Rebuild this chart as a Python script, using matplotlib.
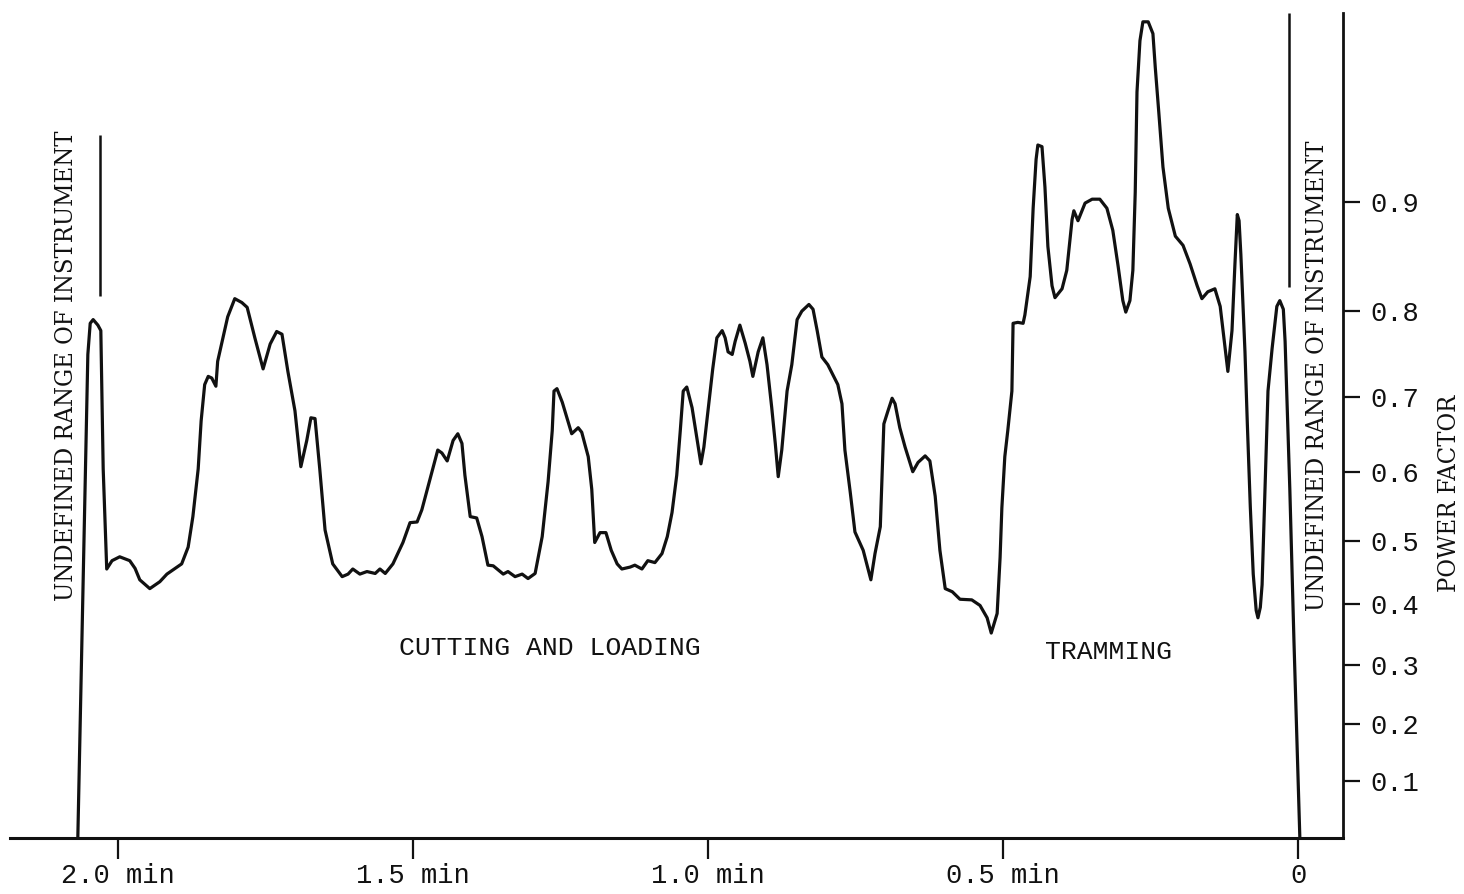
import numpy as np
import matplotlib
matplotlib.use("Agg")
import matplotlib.pyplot as plt

# time before end of cycle (min) and power factor
time_min = [
    2.068, 2.051, 2.047, 2.042, 2.034, 2.029, 2.025, 2.019, 2.010, 1.997,
    1.980, 1.971, 1.963, 1.946, 1.929, 1.917, 1.892, 1.881, 1.873, 1.864,
    1.859, 1.853, 1.847, 1.841, 1.834, 1.831, 1.822, 1.814, 1.802, 1.790,
    1.781, 1.768, 1.754, 1.742, 1.731, 1.722, 1.712, 1.700, 1.690, 1.680,
    1.673, 1.666, 1.658, 1.649, 1.636, 1.620, 1.610, 1.602, 1.590, 1.578,
    1.564, 1.556, 1.547, 1.534, 1.517, 1.505, 1.493, 1.485, 1.471, 1.458,
    1.451, 1.442, 1.432, 1.424, 1.417, 1.412, 1.403, 1.392, 1.383, 1.373,
    1.364, 1.347, 1.339, 1.327, 1.315, 1.305, 1.293, 1.281, 1.271, 1.264,
    1.261, 1.256, 1.247, 1.239, 1.231, 1.220, 1.214, 1.203, 1.197, 1.192,
    1.183, 1.173, 1.164, 1.154, 1.146, 1.132, 1.124, 1.112, 1.102, 1.090,
    1.078, 1.069, 1.061, 1.053, 1.047, 1.042, 1.036, 1.027, 1.019, 1.012,
    1.007, 1.000, 0.992, 0.985, 0.976, 0.971, 0.966, 0.959, 0.954, 0.946,
    0.937, 0.929, 0.924, 0.915, 0.907, 0.900, 0.892, 0.886, 0.881, 0.875,
    0.866, 0.858, 0.849, 0.841, 0.829, 0.822, 0.815, 0.807, 0.797, 0.780,
    0.773, 0.768, 0.759, 0.751, 0.737, 0.724, 0.717, 0.708, 0.702, 0.695,
    0.688, 0.683, 0.675, 0.666, 0.653, 0.644, 0.632, 0.624, 0.615, 0.607,
    0.598, 0.586, 0.573, 0.553, 0.539, 0.527, 0.520, 0.510, 0.505, 0.502,
    0.497, 0.492, 0.485, 0.483, 0.475, 0.466, 0.463, 0.454, 0.449, 0.444,
    0.441, 0.434, 0.429, 0.424, 0.417, 0.412, 0.400, 0.392, 0.383, 0.380,
    0.373, 0.361, 0.349, 0.336, 0.324, 0.314, 0.305, 0.297, 0.292, 0.285,
    0.280, 0.276, 0.273, 0.268, 0.263, 0.254, 0.246, 0.242, 0.236, 0.229,
    0.220, 0.208, 0.195, 0.183, 0.171, 0.163, 0.153, 0.141, 0.132, 0.119,
    0.112, 0.107, 0.103, 0.100, 0.097, 0.090, 0.086, 0.081, 0.076, 0.071,
    0.068, 0.064, 0.061, 0.056, 0.051, 0.044, 0.036, 0.031, 0.025, 0.022,
    0.014, 0.007, -0.003,
]
power_factor = [
    0.000, 0.752, 0.787, 0.791, 0.785, 0.779, 0.605, 0.456, 0.469, 0.475,
    0.469, 0.457, 0.439, 0.425, 0.436, 0.448, 0.464, 0.490, 0.536, 0.605,
    0.670, 0.716, 0.726, 0.724, 0.714, 0.744, 0.771, 0.794, 0.813, 0.809,
    0.804, 0.771, 0.735, 0.764, 0.778, 0.775, 0.732, 0.683, 0.608, 0.644,
    0.674, 0.673, 0.605, 0.516, 0.464, 0.444, 0.448, 0.456, 0.448, 0.452,
    0.449, 0.456, 0.449, 0.464, 0.497, 0.527, 0.528, 0.546, 0.591, 0.631,
    0.627, 0.616, 0.644, 0.653, 0.640, 0.596, 0.536, 0.534, 0.506, 0.462,
    0.461, 0.448, 0.452, 0.444, 0.448, 0.441, 0.449, 0.506, 0.587, 0.657,
    0.708, 0.711, 0.694, 0.674, 0.653, 0.661, 0.655, 0.622, 0.576, 0.497,
    0.512, 0.512, 0.485, 0.464, 0.456, 0.459, 0.462, 0.456, 0.469, 0.466,
    0.480, 0.506, 0.542, 0.596, 0.657, 0.708, 0.713, 0.687, 0.648, 0.612,
    0.635, 0.683, 0.735, 0.771, 0.779, 0.771, 0.755, 0.752, 0.767, 0.785,
    0.765, 0.744, 0.726, 0.755, 0.771, 0.740, 0.687, 0.640, 0.594, 0.631,
    0.708, 0.740, 0.791, 0.800, 0.807, 0.802, 0.779, 0.749, 0.740, 0.716,
    0.692, 0.631, 0.572, 0.513, 0.485, 0.439, 0.480, 0.521, 0.666, 0.683,
    0.699, 0.692, 0.661, 0.635, 0.601, 0.614, 0.623, 0.616, 0.566, 0.485,
    0.425, 0.420, 0.408, 0.407, 0.398, 0.378, 0.353, 0.385, 0.474, 0.549,
    0.622, 0.657, 0.708, 0.787, 0.788, 0.787, 0.796, 0.835, 0.895, 0.930,
    0.939, 0.938, 0.911, 0.863, 0.826, 0.814, 0.823, 0.841, 0.886, 0.893,
    0.885, 0.899, 0.902, 0.902, 0.895, 0.877, 0.845, 0.811, 0.799, 0.811,
    0.841, 0.907, 0.967, 0.986, 0.991, 0.991, 0.988, 0.977, 0.957, 0.925,
    0.895, 0.872, 0.864, 0.847, 0.826, 0.813, 0.820, 0.823, 0.805, 0.732,
    0.779, 0.847, 0.890, 0.885, 0.856, 0.755, 0.666, 0.551, 0.448, 0.390,
    0.378, 0.395, 0.431, 0.576, 0.708, 0.759, 0.805, 0.811, 0.802, 0.767,
    0.576, 0.340, 0.000,
]

# boundaries of the instrument's undefined range (time, pf from, pf to)
undefined_time = [2.031, 0.015]
undefined_low = [0.816, 0.825]
undefined_high = [0.945, 0.993]

x_ticks = [2.0, 1.5, 1.0, 0.5, 0.0]
x_labels = ["2.0 min", "1.5 min", "1.0 min", "0.5 min", "0"]
pf_ticks = [0.1, 0.2, 0.3, 0.4, 0.5, 0.6, 0.7, 0.8, 0.9]
pf_labels = ["0.1", "0.2", "0.3", "0.4", "0.5", "0.6", "0.7", "0.8", "0.9"]

mono = "Liberation Mono"
ink = "#111111"


# the meter scale is linear in phase angle, i.e. arcsin of the power factor
def pf_to_deg(pf):
    return np.degrees(np.arcsin(np.clip(pf, -1.0, 1.0)))


def deg_to_pf(deg):
    return np.sin(np.radians(deg))


fig = plt.figure(figsize=(14.64, 8.94), dpi=100)
ax = fig.add_axes([0.0068, 0.0626, 0.9105, 0.9229])

ax.set_yscale("function", functions=(pf_to_deg, deg_to_pf))
ax.set_xlim(2.183, -0.076)
ax.set_ylim(0.0, deg_to_pf(83.2))

ax.plot(time_min, power_factor, color=ink, lw=2.3, solid_joinstyle="round",
        clip_on=False)
ax.vlines(undefined_time, undefined_low, undefined_high, color=ink, lw=1.8,
          clip_on=False)

for side in ["left", "top"]:
    ax.spines[side].set_visible(False)
ax.spines["bottom"].set_linewidth(2.2)
ax.spines["right"].set_linewidth(2.0)
ax.spines["bottom"].set_color(ink)
ax.spines["right"].set_color(ink)

ax.set_xticks(x_ticks)
ax.set_xticklabels(x_labels, fontfamily=mono, fontsize=19.5)
ax.tick_params(axis="x", direction="out", length=15, width=1.6, pad=3,
               colors=ink)

ax.yaxis.tick_right()
ax.set_yticks(pf_ticks)
ax.set_yticklabels(pf_labels, fontfamily=mono, fontsize=19.5)
ax.yaxis.set_minor_locator(plt.NullLocator())
ax.tick_params(axis="y", which="major", direction="out", length=12, width=1.6,
               pad=8, colors=ink)

side_font = dict(family="DejaVu Serif", stretch="condensed", size=18.3,
                 color=ink, rotation=90, ha="center", va="center")
fig.text(0.0451, 0.5906, "UNDEFINED RANGE OF INSTRUMENT", **side_font)
fig.text(0.8996, 0.5794, "UNDEFINED RANGE OF INSTRUMENT", **side_font)
fig.text(0.9904, 0.4485, "POWER FACTOR", **side_font)

fig.text(0.3757, 0.2752, "CUTTING AND LOADING", family=mono, size=19,
         color=ink, ha="center", va="center")
fig.text(0.7575, 0.2707, "TRAMMING", family=mono, size=19,
         color=ink, ha="center", va="center")

fig.savefig("out.png", dpi=100, facecolor="white")
